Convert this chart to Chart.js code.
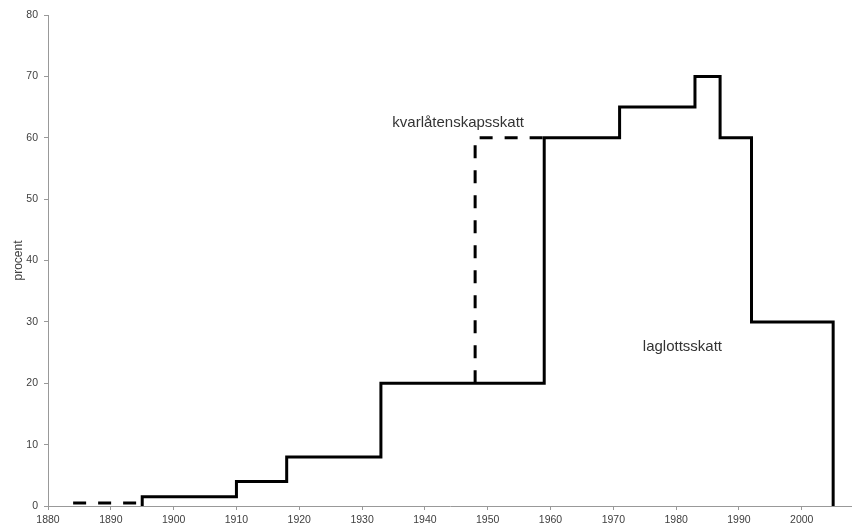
<!DOCTYPE html>
<html>
<head>
<meta charset="utf-8">
<script src="https://cdn.jsdelivr.net/npm/chart.js@4/dist/chart.umd.min.js"></script>
<style>
  html, body { margin: 0; padding: 0; background: #fff; }
  #wrap { width: 852px; height: 528px; position: relative; }
</style>
</head>
<body>
<div id="wrap"><canvas id="c"></canvas></div>
<script>
// Laglottsskatt (solid): year where a rate starts, and rate in percent
const laglottYears  = [1895, 1895, 1910, 1918, 1933, 1959, 1971, 1983, 1987, 1992, 2005];
const laglottValues = [0,    1.5,  4,    8,    20,   60,   65,   70,   60,   30,   0];

// Kvarlåtenskapsskatt (dashed) – shown where it differs from the solid line
const kvarYears  = [1884, 1895, null, 1948, 1948, 1959];
const kvarValues = [0.5,  0.5,  null, 20,   60,   60];

// Axis ranges / tick labels
const xTicks = [1880, 1890, 1900, 1910, 1920, 1930, 1940, 1950, 1960, 1970, 1980, 1990, 2000];
const yTicks = [0, 10, 20, 30, 40, 50, 60, 70, 80];
const xMin = 1880, xMax = 2008;
const yAxisTitle = 'procent';

// Text labels placed in data coordinates
const labelTexts = ['kvarlåtenskapsskatt', 'laglottsskatt'];
const labelYears = [1945.3, 1981];
const labelValues = [62.5, 25.9];

const toPoints = (xs, ys) => xs.map((x, i) => (x === null ? { x: NaN, y: null } : { x: x, y: ys[i] }));

const labelPlugin = {
  id: 'labels',
  afterDatasetsDraw(chart) {
    const { ctx, scales } = chart;
    ctx.save();
    ctx.font = '15px "Liberation Sans", Arial, sans-serif';
    ctx.fillStyle = '#333';
    ctx.textAlign = 'center';
    ctx.textBaseline = 'middle';
    labelTexts.forEach((t, i) => {
      ctx.fillText(t, scales.x.getPixelForValue(labelYears[i]), scales.y.getPixelForValue(labelValues[i]));
    });
    ctx.restore();
  }
};

new Chart(document.getElementById('c'), {
  type: 'line',
  data: {
    datasets: [
      {
        label: 'laglottsskatt',
        data: toPoints(laglottYears, laglottValues),
        stepped: 'before',
        borderColor: '#000',
        borderWidth: 3,
        pointRadius: 0,
        fill: false,
        order: 0
      },
      {
        label: 'kvarlåtenskapsskatt',
        data: toPoints(kvarYears, kvarValues),
        stepped: 'before',
        borderColor: '#000',
        borderWidth: 3,
        borderDash: [13, 12],
        pointRadius: 0,
        spanGaps: false,
        fill: false,
        order: 1
      }
    ]
  },
  options: {
    responsive: true,
    maintainAspectRatio: false,
    animation: false,
    layout: { padding: { top: 15, right: 0, left: 0, bottom: 0 } },
    plugins: { legend: { display: false }, tooltip: { enabled: false } },
    scales: {
      x: {
        type: 'linear',
        min: xMin,
        max: xMax,
        afterBuildTicks: (s) => { s.ticks = xTicks.map(v => ({ value: v })); },
        afterFit: (s) => { s.height = 22; },
        ticks: {
          stepSize: 10,
          autoSkip: false,
          maxRotation: 0,
          padding: 4,
          color: '#404040',
          font: { family: '"Liberation Sans", Arial, sans-serif', size: 10.5 },
          callback: (v) => String(v)
        },
        grid: { display: true, drawOnChartArea: false, drawTicks: true, tickLength: 4, color: '#999', lineWidth: 1 },
        border: { display: true, color: '#999', width: 1 }
      },
      y: {
        type: 'linear',
        min: 0,
        max: 80,
        afterBuildTicks: (s) => { s.ticks = yTicks.map(v => ({ value: v })); },
        afterFit: (s) => { s.width = 48; },
        ticks: {
          stepSize: 10,
          padding: 6,
          color: '#404040',
          font: { family: '"Liberation Sans", Arial, sans-serif', size: 10.5 }
        },
        title: {
          display: true,
          text: yAxisTitle,
          color: '#404040',
          font: { family: '"Liberation Sans", Arial, sans-serif', size: 12 },
          padding: { top: 11, bottom: 0 }
        },
        grid: { display: true, drawOnChartArea: false, drawTicks: true, tickLength: 4, color: '#999', lineWidth: 1 },
        border: { display: true, color: '#999', width: 1 }
      }
    }
  },
  plugins: [labelPlugin]
});
</script>
</body>
</html>
